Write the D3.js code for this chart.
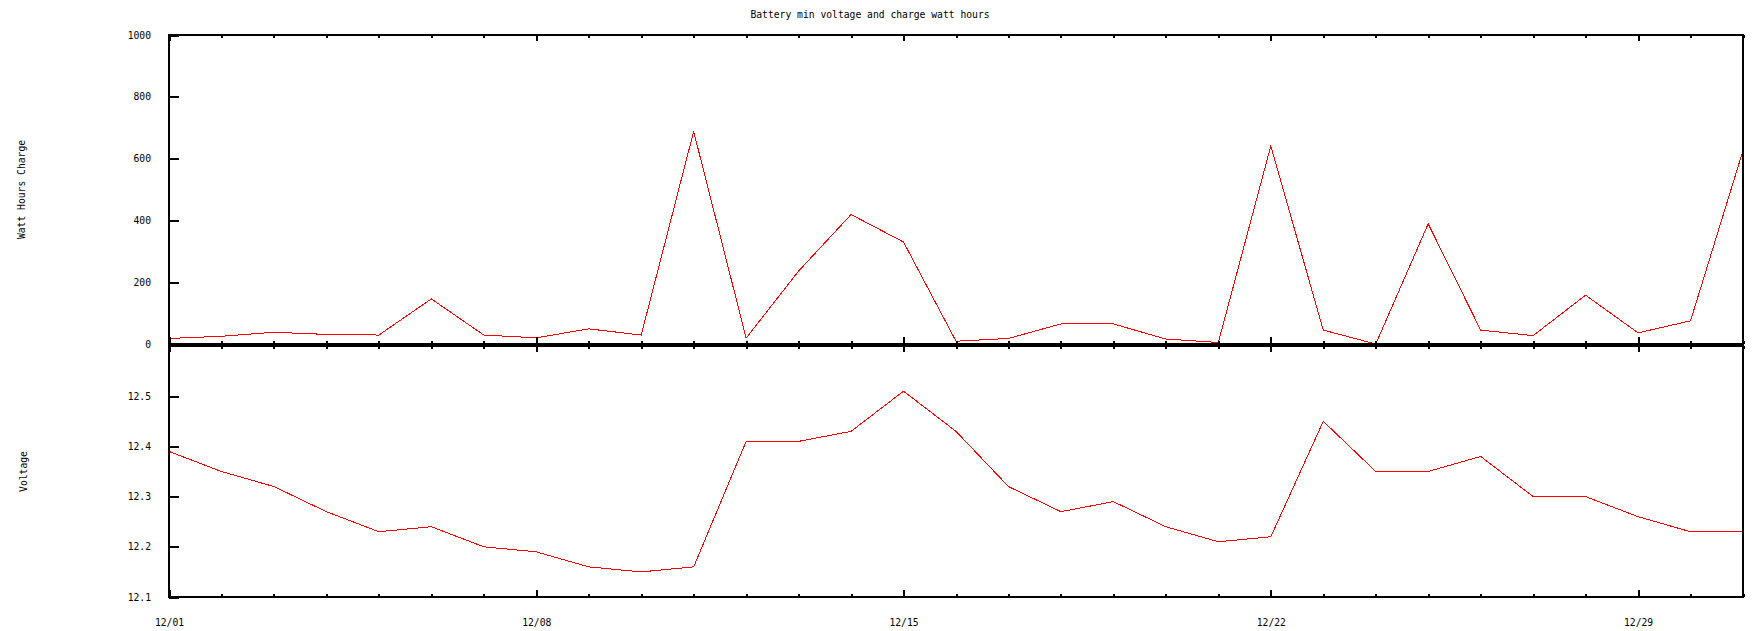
<!DOCTYPE html>
<html>
<head>
<meta charset="utf-8">
<script src="https://cdn.jsdelivr.net/npm/d3@7/dist/d3.min.js"></script>
<style>
  html, body { margin: 0; padding: 0; background: #fff; }
  svg { display: block; }
  text { font-family: "DejaVu Sans Mono", "Liberation Mono", monospace; font-size: 9.7px; fill: #000; }
</style>
</head>
<body>
<svg id="chart" width="1753" height="631"></svg>
<script>
// ---- data ----
const days = ["12/01","12/02","12/03","12/04","12/05","12/06","12/07","12/08","12/09","12/10",
              "12/11","12/12","12/13","12/14","12/15","12/16","12/17","12/18","12/19","12/20",
              "12/21","12/22","12/23","12/24","12/25","12/26","12/27","12/28","12/29","12/30","12/31"];
const wattHours = [18, 25, 38, 31, 29, 146, 29, 20, 49, 29,
                   688, 19, 236, 419, 330, 9, 18, 65, 65, 16,
                   5, 641, 45, 0, 389, 45, 27, 158, 36, 75, 626];
const voltage = [12.39, 12.35, 12.32, 12.27, 12.23, 12.24, 12.20, 12.19, 12.16, 12.15,
                 12.16, 12.41, 12.41, 12.43, 12.51, 12.43, 12.32, 12.27, 12.29, 12.24,
                 12.21, 12.22, 12.45, 12.35, 12.35, 12.38, 12.30, 12.30, 12.26, 12.23, 12.23];
const xTickLabels = ["12/01","12/08","12/15","12/22","12/29"];
const whTicks = [0, 200, 400, 600, 800, 1000];
const vTicks = [12.1, 12.2, 12.3, 12.4, 12.5];
const titleText = "Battery min voltage and charge watt hours";
const whLabel = "Watt Hours Charge";
const vLabel = "Voltage";

// ---- layout ----
const svg = d3.select("#chart");
const parse = d3.timeParse("%Y/%m/%d");
const dates = days.map(d => parse("2010/" + d));
const left = 169, right = 1743;
const top1 = 35, bot1 = 344;
const top2 = 346, bot2 = 597;

const x = d3.scaleTime().domain([dates[0], dates[dates.length - 1]]).range([left, right]);
const y1 = d3.scaleLinear().domain([0, 1000]).range([bot1, top1]);
const y2 = d3.scaleLinear().domain([12.1, 12.6]).range([bot2, top2]);

const fmt = d3.timeFormat("%m/%d");
const allDays = d3.timeDay.range(dates[0], d3.timeDay.offset(dates[dates.length - 1], 1));
const isMajor = d => xTickLabels.includes(fmt(d));

// title
svg.append("text").attr("x", 870).attr("y", 18).attr("text-anchor", "middle").text(titleText);

function panel(yScale, yTop, yBot, yTicks, yFmt, values, label, labelX) {
  const g = svg.append("g");
  // data line
  const line = d3.line().x((d, i) => x(dates[i])).y(d => yScale(d));
  g.append("path").datum(values)
    .attr("d", line).attr("fill", "none").attr("stroke", "#ff0000")
    .attr("stroke-width", 1).attr("shape-rendering", "crispEdges");

  // y axis ticks (inward)
  const yAxis = d3.axisLeft(yScale).tickValues(yTicks).tickSize(-10).tickPadding(18).tickFormat(yFmt);
  const ya = g.append("g").attr("transform", `translate(${left},0)`).call(yAxis);
  ya.select(".domain").remove();
  ya.selectAll(".tick line").attr("stroke", "#000").attr("stroke-width", 2.2).attr("shape-rendering", "crispEdges");
  ya.selectAll(".tick text").style("font-family", '"DejaVu Sans Mono", monospace').style("font-size", "9.7px");

  // x ticks at top (down) and bottom (up)
  const xTop = d3.axisTop(x).tickValues(allDays).tickSize(0).tickFormat("");
  const at = g.append("g").attr("transform", `translate(0,${yTop})`).call(xTop);
  at.select(".domain").remove();
  at.selectAll(".tick line").attr("y2", d => isMajor(d) ? 6 : 3)
    .attr("stroke", "#000").attr("stroke-width", 2).attr("shape-rendering", "crispEdges");
  const xBot = d3.axisBottom(x).tickValues(allDays).tickSize(0).tickFormat("");
  const ab = g.append("g").attr("transform", `translate(0,${yBot})`).call(xBot);
  ab.select(".domain").remove();
  ab.selectAll(".tick line").attr("y2", d => isMajor(d) ? -7 : -3)
    .attr("stroke", "#000").attr("stroke-width", 2).attr("shape-rendering", "crispEdges");

  // border
  g.append("rect").attr("x", left).attr("y", yTop).attr("width", right - left).attr("height", yBot - yTop)
    .attr("fill", "none").attr("stroke", "#000").attr("stroke-width", 2).attr("shape-rendering", "crispEdges");

  // y label
  const cy = (yTop + yBot) / 2;
  svg.append("text").attr("text-anchor", "middle")
    .attr("transform", `translate(${labelX},${cy}) rotate(-90)`).text(label);
}

panel(y1, top1, bot1, whTicks, d3.format("d"), wattHours, whLabel, 25);
panel(y2, top2, bot2, vTicks, d3.format(".1f"), voltage, vLabel, 26.5);

// x tick labels
const xl = d3.axisBottom(x).tickValues(dates.filter(isMajor)).tickSize(0).tickPadding(22).tickFormat(fmt);
const xa = svg.append("g").attr("transform", `translate(0,${bot2})`).call(xl);
xa.select(".domain").remove();
xa.selectAll(".tick text").style("font-family", '"DejaVu Sans Mono", monospace').style("font-size", "9.7px");
</script>
</body>
</html>
